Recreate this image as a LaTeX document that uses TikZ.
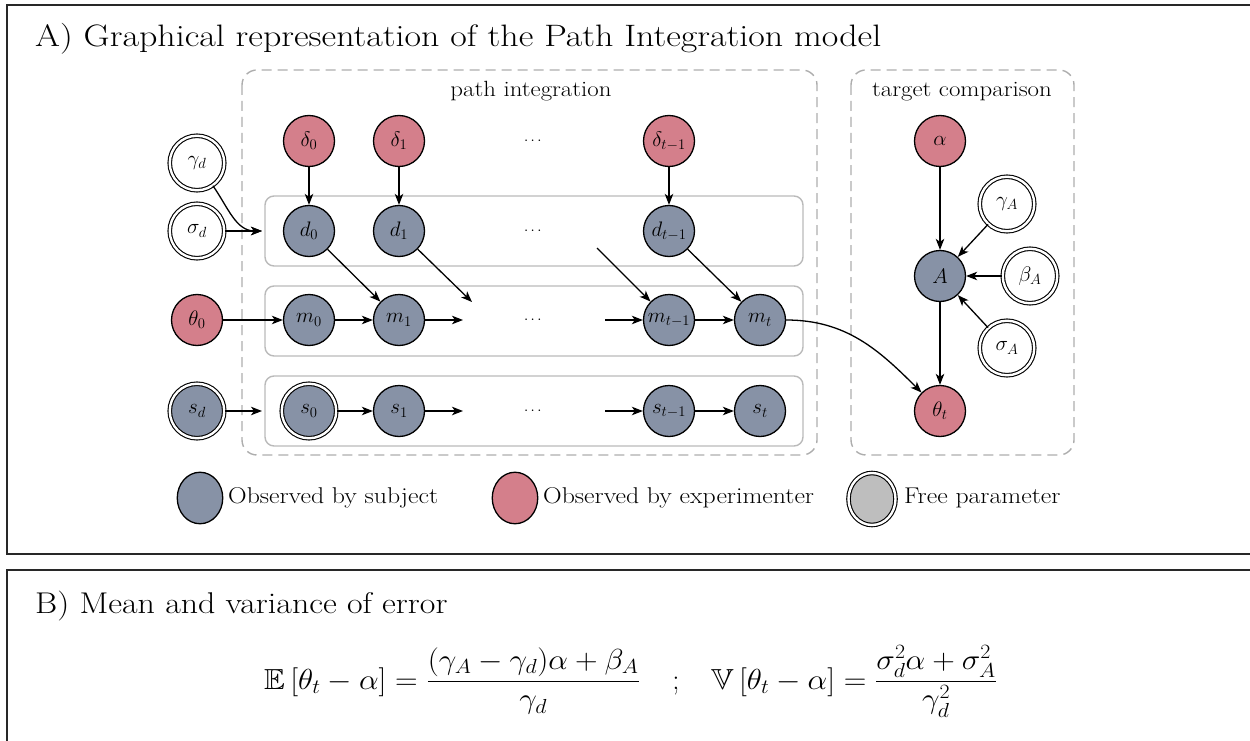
\RequirePackage{fix-cm}
\documentclass[tikz,border=0pt]{standalone}
\usepackage{amsmath,amssymb}
\usepackage{graphicx}
\usepackage{fontspec}
\usetikzlibrary{arrows.meta,shapes.geometric}

\definecolor{subjc}{RGB}{135,146,166}
\definecolor{expc}{RGB}{212,127,139}
\definecolor{freec}{RGB}{190,190,190}
\definecolor{framec}{RGB}{40,40,40}

\newfontfamily\widetext[FakeStretch=1.16]{Latin Modern Roman}
\newfontfamily\widelabel[FakeStretch=1.13]{Latin Modern Roman}
\newcommand\titlefont{\widetext\fontsize{31}{37}\selectfont}
\newcommand\titlebfont{\widelabel\fontsize{30}{36}\selectfont}
\newcommand\labelfont{\widelabel\fontsize{22}{26}\selectfont}
\newcommand\keyfont{\widelabel\fontsize{22.8}{27}\selectfont}
\newcommand\nodefont{\fontsize{21}{25}\selectfont}
\newcommand\eqfont{\fontsize{29}{35}\selectfont}
\newcommand\eqpart[1]{\scalebox{1.08}[1]{$\displaystyle #1$}}

\tikzset{
  frame/.style={draw=framec, line width=2pt},
  basenode/.style={circle, draw=black, line width=1.3pt, minimum size=51pt, inner sep=0pt, font=\nodefont},
  subjnode/.style={basenode, fill=subjc},
  expnode/.style={basenode, fill=expc},
  freenode/.style={circle, draw=black, line width=1.1pt, double=white, double distance=2.4pt,
                   minimum size=54.5pt, inner sep=0pt, font=\nodefont, fill=white},
  freesubj/.style={freenode, fill=subjc},
  dotsnode/.style={inner sep=0pt, font=\fontsize{15}{18}\selectfont},
  arr/.style={-{Stealth[length=11pt,width=8.5pt,inset=3pt]}, line width=1.3pt},
  rowbox/.style={draw=black!27, line width=1.4pt, rounded corners=9pt},
  groupbox/.style={draw=black!32, line width=1.4pt, dash pattern=on 10pt off 6pt, rounded corners=15pt},
  legtext/.style={anchor=west, inner sep=0pt, font=\keyfont},
  legkey/.style={ellipse, draw=black, line width=1.3pt, minimum width=45.5pt, minimum height=51.5pt, inner sep=0pt},
}

\begin{document}
\begin{tikzpicture}[x=1pt,y=-1pt]
\useasboundingbox (0,0) rectangle (1250,741);

% panel frames
\draw[frame] (1253,5) -- (7,5) -- (7,554) -- (1253,554);
\draw[frame] (1253,570) -- (7,570) -- (7,745);

% panel A
\node[anchor=base west, inner sep=0pt, font=\titlefont] (titleA) at (35,47)
  {A) Graphical representation of the Path Integration model};

\draw[groupbox] (242,70) rectangle (817,455);
\node[anchor=base, inner sep=0pt, font=\labelfont] (lblpi) at (531,97) {path integration};
\draw[groupbox] (851,70) rectangle (1074,455);
\node[anchor=base, inner sep=0pt, font=\labelfont] (lbltc) at (962,97) {target comparison};

\draw[rowbox] (265,196) rectangle (803,266);
\draw[rowbox] (265,286) rectangle (803,356);
\draw[rowbox] (265,376) rectangle (803,446);

% observed displacements
\node[expnode] (del0) at (309,141) {$\delta_0$};
\node[expnode] (del1) at (399,141) {$\delta_1$};
\node[expnode] (deltm) at (669,141) {$\delta_{t-1}$};
\node[dotsnode] (dots0) at (534,141) {$\cdots$};

% perceived displacements
\node[freenode] (gd) at (197,163) {$\gamma_d$};
\node[freenode] (sgd) at (197,231) {$\sigma_d$};
\node[subjnode] (d0) at (309,231) {$d_0$};
\node[subjnode] (d1) at (399,231) {$d_1$};
\node[subjnode] (dtm) at (669,231) {$d_{t-1}$};
\node[dotsnode] (dots1) at (534,231) {$\cdots$};
\coordinate (din) at (262,231);

% mental position
\node[expnode] (th0) at (197,320) {$\theta_0$};
\node[subjnode] (m0) at (309,320) {$m_0$};
\node[subjnode] (m1) at (399,320) {$m_1$};
\node[subjnode] (mtm) at (669,320) {$m_{t-1}$};
\node[subjnode] (mt) at (760,320) {$m_t$};
\node[dotsnode] (dots2) at (534,320) {$\cdots$};
\coordinate (mout) at (463,320);
\coordinate (mback) at (605,320);
\coordinate (dout) at (472,302);
\coordinate (dback) at (597,248);

% noise states
\node[freesubj] (sd) at (197,411) {$s_d$};
\node[freesubj] (s0) at (309,411) {$s_0$};
\node[subjnode] (s1) at (399,411) {$s_1$};
\node[subjnode] (stm) at (669,411) {$s_{t-1}$};
\node[subjnode] (st) at (760,411) {$s_t$};
\node[dotsnode] (dots3) at (534,411) {$\cdots$};
\coordinate (sin) at (262,411);
\coordinate (sout) at (463,411);
\coordinate (sback) at (605,411);

% target comparison
\node[expnode] (alpha) at (940,141) {$\alpha$};
\node[subjnode] (A) at (940,276) {$A$};
\node[expnode] (tht) at (940,411) {$\theta_t$};
\node[freenode] (gA) at (1007,204) {$\gamma_A$};
\node[freenode] (bA) at (1030,276) {$\beta_A$};
\node[freenode] (sA) at (1007,348) {$\sigma_A$};

% connectors
\draw[arr] (del0) -- (d0);
\draw[arr] (del1) -- (d1);
\draw[arr] (deltm) -- (dtm);
\draw[arr] (gd) to[out=-55, in=180] (din);
\draw[arr] (sgd) -- (din);

\draw[arr] (th0) -- (m0);
\draw[arr] (m0) -- (m1);
\draw[arr] (m1) -- (mout);
\draw[arr] (mback) -- (mtm);
\draw[arr] (mtm) -- (mt);
\draw[arr] (d0) -- (m1);
\draw[arr] (d1) -- (dout);
\draw[arr] (dback) -- (mtm);
\draw[arr] (dtm) -- (mt);

\draw[arr] (sd) -- (sin);
\draw[arr] (s0) -- (s1);
\draw[arr] (s1) -- (sout);
\draw[arr] (sback) -- (stm);
\draw[arr] (stm) -- (st);

\draw[arr] (mt) to[out=0, in=135] (tht);
\draw[arr] (alpha) -- (A);
\draw[arr] (A) -- (tht);
\draw[arr] (gA) -- (A);
\draw[arr] (bA) -- (A);
\draw[arr] (sA) -- (A);

% legend
\node[legkey, fill=subjc] (key1) at (200,498) {};
\node[legtext] (key1t) at (228,498) {Observed by subject};
\node[legkey, fill=expc] (key2) at (515,498) {};
\node[legtext] (key2t) at (543,498) {Observed by experimenter};
\node[legkey, double=white, double distance=2.4pt, line width=1.1pt, fill=freec,
      minimum width=47pt, minimum height=52pt] (key3) at (872,499) {};
\node[legtext] (key3t) at (904,498) {Free parameter};

% panel B
\node[anchor=base west, inner sep=0pt, font=\titlebfont] (titleB) at (35,613)
  {B) Mean and variance of error};
\node[anchor=base east, inner sep=0pt, font=\eqfont] (eqmean) at (640,689)
  {\eqpart{\mathbb{E}\left[\theta_t-\alpha\right]=\dfrac{(\gamma_A-\gamma_d)\alpha+\beta_A}{\gamma_d}}};
\node[anchor=base, inner sep=0pt, font=\eqfont] (semi) at (676,689) {$;$};
\node[anchor=base west, inner sep=0pt, font=\eqfont] (eqvar) at (711,689)
  {\eqpart{\mathbb{V}\left[\theta_t-\alpha\right]=\dfrac{\sigma_d^2\alpha+\sigma_A^2}{\gamma_d^2}}};
\end{tikzpicture}
\end{document}
